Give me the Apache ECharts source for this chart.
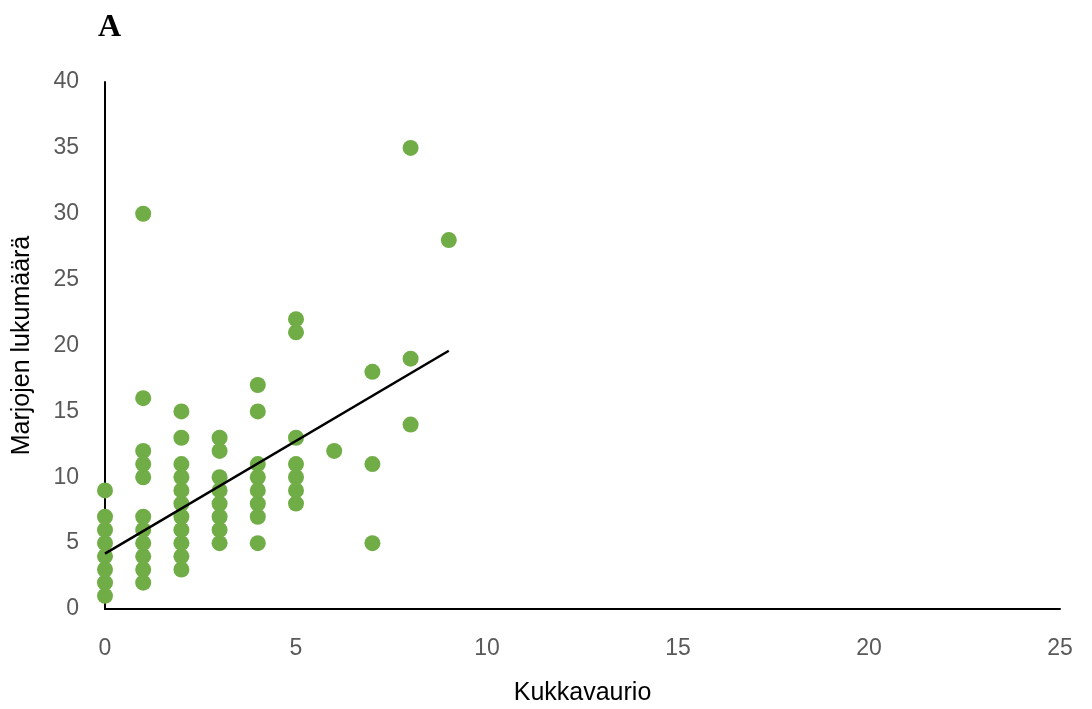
<!DOCTYPE html>
<html><head><meta charset="utf-8">
<script src="https://cdn.jsdelivr.net/npm/echarts@6/dist/echarts.min.js"></script>
<style>html,body{margin:0;padding:0;background:#fff}#c{width:1092px;height:709px}</style>
</head><body><div id="c"></div>
<script>
const damage = [0,0,0,0,0,0,0,0,
  1,1,1,1,1,1,1,1,1,1,1,
  2,2,2,2,2,2,2,2,2,2,2,
  3,3,3,3,3,3,3,3,
  4,4,4,4,4,4,4,4,
  5,5,5,5,5,5,5,
  6,
  7,7,7,
  8,8,8,
  9];
const berries = [1,2,3,4,5,6,7,9,
  2,3,4,5,6,7,10,11,12,16,30,
  3,4,5,6,7,8,9,10,11,13,15,
  5,6,7,8,9,10,12,13,
  5,7,8,9,10,11,15,17,
  8,9,10,11,13,21,22,
  12,
  5,11,18,
  14,19,35,
  28];
const trendX = [0, 9];
const trendY = [4.2, 19.6];
const xTicks = [0,5,10,15,20,25];
const yTicks = [0,5,10,15,20,25,30,35,40];

const pts = damage.map((d,i)=>[d, berries[i]]);
const trend = trendX.map((d,i)=>[d, trendY[i]]);
const chart = echarts.init(document.getElementById('c'));
const FF = 'Liberation Sans, Noto Sans, sans-serif';
const labelFont = {color:'#595959', fontSize:23, fontFamily:FF};
chart.setOption({
  animation:false,
  backgroundColor:'#fff',
  title:{text:'A', left:93, top:7, textStyle:{fontFamily:'Liberation Serif, DejaVu Serif, serif', fontWeight:'bold', fontSize:32, color:'#000'}},
  grid:{left:105, right:32, top:82, bottom:100, outerBoundsMode:'none', containLabel:false},
  xAxis:{type:'value', min:0, max:25, interval:5,
    name:'Kukkavaurio', nameLocation:'middle', nameGap:72,
    nameTextStyle:{color:'#000', fontSize:25, fontFamily:FF},
    axisLine:{show:true, onZero:false, lineStyle:{color:'#000', width:2}},
    axisTick:{show:false}, splitLine:{show:false},
    axisLabel:Object.assign({margin:28, formatter:v=>xTicks.includes(v)?String(v):''}, labelFont)},
  yAxis:{type:'value', min:0, max:40, interval:5,
    name:'Marjojen lukumäärä', nameLocation:'middle', nameGap:70, nameRotate:90,
    nameTextStyle:{color:'#000', fontSize:25, fontFamily:FF},
    axisLine:{show:true, lineStyle:{color:'#000', width:2}},
    axisTick:{show:false}, splitLine:{show:false},
    axisLabel:Object.assign({margin:26, formatter:v=>yTicks.includes(v)?String(v):''}, labelFont)},
  series:[
    {type:'scatter', data:pts, symbolSize:16, itemStyle:{color:'#70AD47', opacity:1}, z:2},
    {type:'line', data:trend, symbol:'none', lineStyle:{color:'#000', width:2.5}, z:3}
  ]
});
</script></body></html>
